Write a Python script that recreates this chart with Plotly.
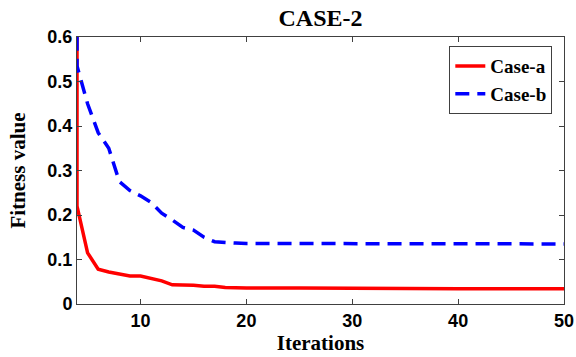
import plotly.graph_objects as go

iters_a = [4, 4, 5, 6, 7, 8, 9, 10, 11, 12, 13, 14, 15, 16, 17, 18, 19, 20, 25, 30, 35, 40, 45, 50]
case_a = [0.65, 0.22, 0.115, 0.078, 0.072, 0.067, 0.063, 0.063, 0.058, 0.052, 0.043, 0.043, 0.042,
          0.040, 0.040, 0.037, 0.036, 0.036, 0.036, 0.035, 0.035, 0.034, 0.034, 0.034]

iters_b = [4, 4, 5, 6, 7, 8, 9, 10, 11, 12, 13, 14, 15, 16, 17, 18, 19, 20, 25, 30, 35, 40, 45, 50]
case_b = [0.65, 0.535, 0.45, 0.385, 0.35, 0.275, 0.255, 0.243, 0.228, 0.204, 0.189, 0.172, 0.166,
          0.150, 0.140, 0.138, 0.137, 0.136, 0.136, 0.135, 0.135, 0.135, 0.135, 0.135]

x_ticks = [10, 20, 30, 40, 50]
y_ticks = [0, 0.1, 0.2, 0.3, 0.4, 0.5, 0.6]
y_labels = ["0", "0.1", "0.2", "0.3", "0.4", "0.5", "0.6"]

fig = go.Figure()
fig.add_trace(go.Scatter(x=iters_a, y=case_a, mode="lines", name="Case-a",
                         line=dict(color="#ff0000", width=3.5)))
fig.add_trace(go.Scatter(x=iters_b, y=case_b, mode="lines", name="Case-b",
                         line=dict(color="#0000ff", width=3.5, dash="14px,8px")))

tickfont = dict(family="Liberation Sans", size=18, color="black", weight="bold")
axis_common = dict(showgrid=False, zeroline=False, showline=True, linecolor="#404040",
                   linewidth=1, mirror="ticks", ticks="inside", ticklen=5,
                   tickcolor="#404040", tickfont=tickfont, automargin=False)

serif_bold = dict(family="Liberation Serif", color="black", weight="bold")

fig.update_layout(
    width=576, height=357,
    margin=dict(l=77, r=12, t=37, b=53),
    paper_bgcolor="white", plot_bgcolor="white",
    title=dict(text="CASE-2", x=0.5565, xanchor="center", y=0.95, yanchor="middle",
               font=dict(size=24, **serif_bold)),
    xaxis=dict(range=[4, 50], tickvals=x_ticks,
               title=dict(text="Iterations", standoff=4, font=dict(size=21, **serif_bold)),
               **axis_common),
    yaxis=dict(range=[0, 0.6], tickvals=y_ticks, ticktext=y_labels,
               title=dict(text="Fitness value", standoff=16, font=dict(size=21, **serif_bold)),
               **axis_common),
    legend=dict(x=0.976, xanchor="right", y=0.966, yanchor="top",
                bordercolor="#404040", borderwidth=1, bgcolor="white",
                font=dict(size=19, **serif_bold),
                tracegroupgap=0, itemwidth=30),
    showlegend=True,
)

fig.write_html("out.html")
